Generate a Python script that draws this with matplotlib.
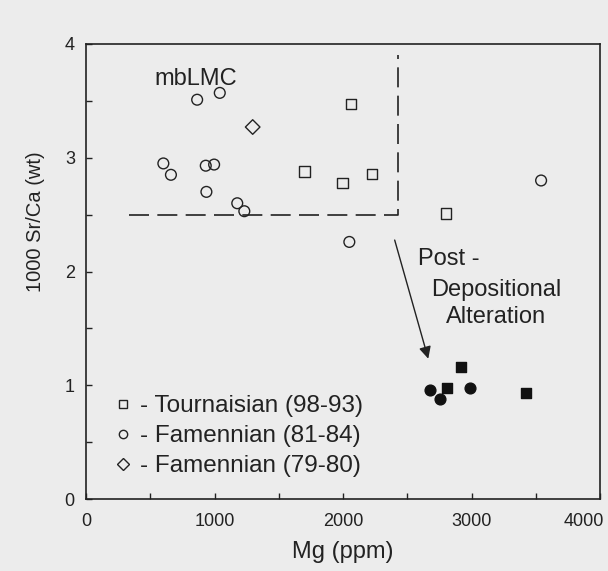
import matplotlib.pyplot as plt
import matplotlib.transforms as mtransforms
from matplotlib.lines import Line2D

plt.rcParams['font.family'] = ['Liberation Sans', 'DejaVu Sans']

# Tournaisian (98-93), open squares
tour_mg = [2062, 1700, 1997, 2224, 2802]
tour_sr = [3.47, 2.88, 2.78, 2.86, 2.51]
# Famennian (81-84), open circles
fam_mg = [865, 1041, 602, 661, 932, 997, 937, 1177, 1232, 3541, 2049]
fam_sr = [3.51, 3.57, 2.95, 2.85, 2.93, 2.94, 2.70, 2.60, 2.53, 2.80, 2.26]
# Famennian (79-80), open diamond
fam2_mg = [1297]
fam2_sr = [3.27]
# altered samples, filled
alt_sq_mg = [2917, 2810, 3422]
alt_sq_sr = [1.16, 0.98, 0.93]
alt_ci_mg = [2680, 2758, 2990]
alt_ci_sr = [0.96, 0.88, 0.98]

# mbLMC field
box_x = [336, 2430, 2430]
box_y = [2.5, 2.5, 3.9]

bg = '#ececec'
fig = plt.figure(figsize=(6.08, 5.71), dpi=100, facecolor=bg)
ax = fig.add_axes([0.1414, 0.126, 0.8456, 0.797])
ax.set_facecolor(bg)

ax.scatter(tour_mg, tour_sr, marker='s', s=55, facecolors='none', edgecolors='#222222', linewidths=1.0)
ax.scatter(fam_mg, fam_sr, marker='o', s=60, facecolors='none', edgecolors='#222222', linewidths=1.0)
ax.scatter(fam2_mg, fam2_sr, marker='D', s=55, facecolors='none', edgecolors='#222222', linewidths=1.0)
ax.scatter(alt_sq_mg, alt_sq_sr, marker='s', s=55, color='#111111')
ax.scatter(alt_ci_mg, alt_ci_sr, marker='o', s=60, color='#111111')

ax.plot(box_x, box_y, color='#222222', lw=1.2, dashes=(12, 5))

ax.text(531, 3.69, 'mbLMC', fontsize=17, va='center', ha='left', color='#222222')
ax.text(2583, 2.11, 'Post -', fontsize=17, va='center', ha='left', color='#222222')
ax.text(2687, 1.84, 'Depositional', fontsize=17, va='center', ha='left', color='#222222')
ax.text(2797, 1.60, 'Alteration', fontsize=17, va='center', ha='left', color='#222222')
ax.annotate('', xy=(2669, 1.21), xytext=(2396, 2.30),
            arrowprops=dict(arrowstyle='-|>', color='#222222', lw=1.0, mutation_scale=18))

handles = [
    Line2D([], [], ls='none', marker='s', ms=6, mfc='none', mec='#222222', mew=1.0),
    Line2D([], [], ls='none', marker='o', ms=6, mfc='none', mec='#222222', mew=1.0),
    Line2D([], [], ls='none', marker='D', ms=6.5, mfc='none', mec='#222222', mew=1.0),
]
labels = ['- Tournaisian (98-93)', '- Famennian (81-84)', '- Famennian (79-80)']
ax.legend(handles, labels, loc='lower left', bbox_to_anchor=(0.016, 0.01), frameon=False,
          fontsize=17.5, handlelength=1.0, handletextpad=0.2, labelspacing=0.33,
          borderaxespad=0.3, labelcolor='#222222')

ax.set_xlim(0, 4000)
ax.set_ylim(0, 4)
ax.set_xticks([0, 1000, 2000, 3000, 4000])
ax.set_xticks(range(0, 4001, 500), minor=True)
ax.set_yticks([0, 1, 2, 3, 4])
ax.set_yticks([0.5, 1.5, 2.5, 3.5], minor=True)
ax.tick_params(which='both', direction='in', length=4, width=1, labelsize=13, colors='#222222')
ax.tick_params(axis='x', pad=10)
ax.tick_params(axis='y', pad=8)
for s in ax.spines.values():
    s.set_color('#222222')
    s.set_linewidth(1.2)

# last x label sits a bit left so it stays inside the figure
last = ax.get_xticklabels()[-1]
last.set_transform(last.get_transform() + mtransforms.ScaledTranslation(-0.16, 0, fig.dpi_scale_trans))

ax.set_xlabel('Mg (ppm)', fontsize=17, color='#222222', labelpad=8)
ax.set_ylabel('1000 Sr/Ca (wt)', fontsize=14.5, color='#222222')
ax.yaxis.set_label_coords(-0.079, 0.61)

fig.savefig('out.png', dpi=100, facecolor=bg)
